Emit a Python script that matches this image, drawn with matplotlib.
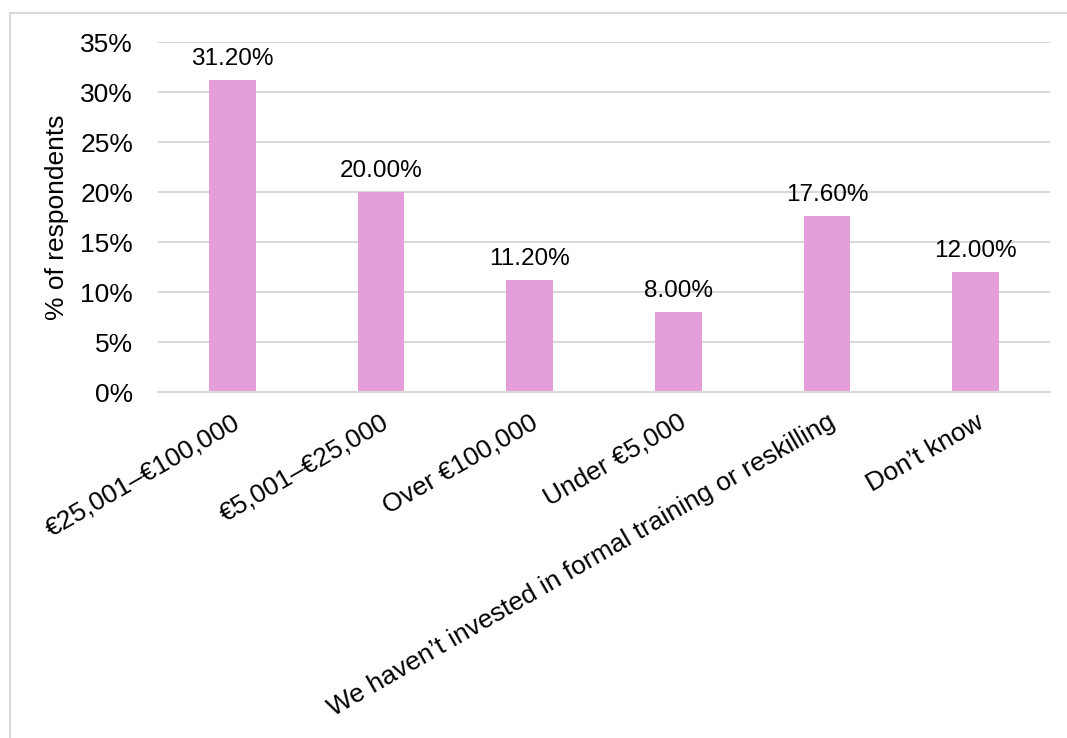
import matplotlib.pyplot as plt
from matplotlib.lines import Line2D

plt.rcParams['font.family'] = ['Liberation Sans', 'DejaVu Sans']

# Training spend categories and share of respondents (%)
categories = ['€25,001–€100,000', '€5,001–€25,000', 'Over €100,000', 'Under €5,000',
              'We haven’t invested in formal training or reskilling', 'Don’t know']
shares = [31.2, 20.0, 11.2, 8.0, 17.6, 12.0]
y_ticks = [0, 5, 10, 15, 20, 25, 30, 35]

bar_color = '#E49EDB'
grid_color = '#D9D9D9'

fig = plt.figure(figsize=(10.67, 7.38), dpi=100)
ax = fig.add_axes([158 / 1067, 1 - 392 / 738, (1050 - 158) / 1067, 350 / 738])

x = range(len(categories))
bars = ax.bar(x, shares, width=0.316, color=bar_color, zorder=3)

for rect, v in zip(bars, shares):
    ax.annotate(f'{v:.2f}%', (rect.get_x() + rect.get_width() / 2, v),
                xytext=(0, 7), textcoords='offset points',
                ha='center', va='bottom', fontsize=17.5, color='#000000')

ax.set_xlim(-0.5, len(categories) - 0.5)
ax.set_ylim(0, 35)
ax.set_yticks(y_ticks)
ax.set_yticklabels([f'{t}%' for t in y_ticks], fontsize=19)
ax.set_xticks(list(x))
ax.set_xticklabels(categories, rotation=30, ha='right', rotation_mode='anchor', fontsize=19)
ax.tick_params(axis='both', length=0)
ax.tick_params(axis='y', pad=18)
ax.tick_params(axis='x', pad=13)

ax.yaxis.grid(True, color=grid_color, linewidth=1.5, zorder=0)
for side in ['top', 'right', 'left']:
    ax.spines[side].set_visible(False)
ax.spines['bottom'].set_color(grid_color)
ax.spines['bottom'].set_linewidth(1.5)
ax.spines['bottom'].set_zorder(4)

ax.set_ylabel('% of respondents', fontsize=19, labelpad=8)

# Outer chart frame
fx = 10 / 1067
fy = 1 - 13 / 738
fig.add_artist(Line2D([fx, fx], [0, fy], color=grid_color, linewidth=1.5))
fig.add_artist(Line2D([fx, 1], [fy, fy], color=grid_color, linewidth=1.5))

fig.savefig('out.png', dpi=100, facecolor='white')
